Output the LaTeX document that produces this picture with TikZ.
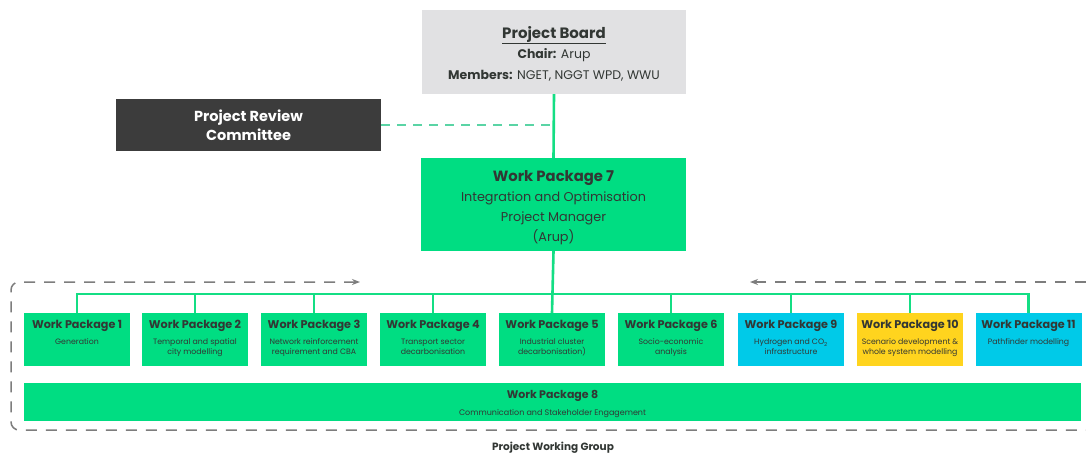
\documentclass[tikz,border=0pt]{standalone}
\usepackage{fontspec}
\setmainfont{Poppins}
\usetikzlibrary{arrows.meta}
\definecolor{wpgreen}{RGB}{0,221,130}
\definecolor{wpcyan}{RGB}{0,202,232}
\definecolor{wpyellow}{RGB}{255,212,30}
\definecolor{boardgray}{RGB}{225,225,227}
\definecolor{darkbox}{RGB}{60,60,60}
\definecolor{txtgray}{RGB}{50,55,52}
\definecolor{linegreen}{RGB}{20,222,132}
\definecolor{tealdash}{RGB}{90,212,165}
\definecolor{framegray}{RGB}{125,125,125}
\newcommand\wptitle{\fontsize{11.2}{13}\selectfont\bfseries}
\newcommand\wpsub{\fontsize{7.8}{10}\selectfont}
\newcommand\wpbox[2]{\parbox[c][47pt][t]{104pt}{\centering\vspace*{4.5pt}{\wptitle #1\par}\vspace{6pt}{\wpsub #2\par}}}
\tikzset{
  wpsmall/.style={rectangle, draw=none, minimum width=106pt, minimum height=53pt, inner sep=0pt, text=txtgray},
  boxtext/.style={align=center, inner sep=0pt, text=txtgray},
  conn/.style={draw=linegreen, line width=2.6pt},
  revdash/.style={draw=tealdash, line width=1.2pt, dash pattern=on 9pt off 7pt},
  frame/.style={draw=framegray, line width=1.5pt, dash pattern=on 11pt off 9pt},
}
\begin{document}
\begin{tikzpicture}[x=1pt,y=-1pt]
\useasboundingbox[fill=white] (0,0) rectangle (1086,455);
% frame
\draw[frame, rounded corners=8pt, {Stealth[length=8pt,width=6pt]}-] (360,282) -- (11,282) -- (11,430) -- (1086,430);
\draw[frame, -{Stealth[length=8pt,width=6pt]}] (1086,282) -- (750,282);
% top boxes
\node[rectangle, fill=boardgray, minimum width=264pt, minimum height=84pt, inner sep=0pt] (board) at (554,52) {};
\node[boxtext, font=\fontsize{12.5}{20.5}\selectfont] (boardtxt) at ([yshift=-1.5pt]board.center)
  {{\fontsize{15}{20.5}\selectfont\bfseries\underline{Project Board}}\\
   \textbf{Chair:} Arup\\
   \textbf{Members:} NGET, NGGT WPD, WWU};
\node[rectangle, fill=darkbox, minimum width=265pt, minimum height=52pt, text=white, align=center, inner sep=0pt,
      font=\fontsize{14.5}{19.5}\selectfont\bfseries] (prc) at (248.5,125)
  {Project Review\\Committee};
\node[rectangle, fill=wpgreen, minimum width=265pt, minimum height=93pt, inner sep=0pt] (wp7) at (553.5,204.5) {};
\node[boxtext, font=\fontsize{12.8}{20}\selectfont] (wp7txt) at ([yshift=-3pt]wp7.center)
  {{\fontsize{14.8}{20}\selectfont\bfseries Work Package 7}\\
   Integration and Optimisation\\
   Project Manager\\
   (Arup)};
% work packages
\node[wpsmall, fill=wpgreen] (w1) at (77,339.5) {\wpbox{Work Package 1}{Generation}};
\node[wpsmall, fill=wpgreen] (w2) at (195,339.5) {\wpbox{Work Package 2}{Temporal and spatial\\city modelling}};
\node[wpsmall, fill=wpgreen] (w3) at (314,339.5) {\wpbox{Work Package 3}{Network reinforcement\\requirement and CBA}};
\node[wpsmall, fill=wpgreen] (w4) at (433,339.5) {\wpbox{Work Package 4}{Transport sector\\decarbonisation}};
\node[wpsmall, fill=wpgreen] (w5) at (552,339.5) {\wpbox{Work Package 5}{Industrial cluster\\decarbonisation)}};
\node[wpsmall, fill=wpgreen] (w6) at (671,339.5) {\wpbox{Work Package 6}{Socio-economic\\analysis}};
\node[wpsmall, fill=wpcyan] (w9) at (791,339.5) {\wpbox{Work Package 9}{Hydrogen and CO\textsubscript{2}\\infrastructure}};
\node[wpsmall, fill=wpyellow] (w10) at (910,339.5) {\wpbox{Work Package 10}{Scenario development \&\\whole system modelling}};
\node[wpsmall, fill=wpcyan] (w11) at (1028.5,339.5) {\wpbox{Work Package 11}{Pathfinder modelling}};
\node[rectangle, fill=wpgreen, minimum width=1057pt, minimum height=38pt, inner sep=0pt] (w8) at (552.5,402) {};
\node[boxtext, font=\fontsize{8}{16.5}\selectfont] (w8txt) at ([yshift=-2pt]w8.center)
  {{\fontsize{11}{16.5}\selectfont\bfseries Work Package 8}\\Communication and Stakeholder Engagement};
\node[text=txtgray, inner sep=0pt, font=\fontsize{10.5}{12}\selectfont\bfseries] (pwg) at (553,448) {Project Working Group};
% connectors
\draw[revdash] (prc.east) -- (prc.east -| board.south);
\draw[conn] (board.south) -- (wp7.north);
\draw[conn] (wp7.south) -- (w5.north);
\coordinate (barL) at (77,294);
\coordinate (barR) at (1028.5,294);
\draw[conn, line join=miter] (w1.north) -- (barL) -- (barR) -- (w11.north);
\foreach \n in {w2,w3,w4,w6,w9,w10} {\draw[conn] (\n.north) -- (\n.north |- barL);}
\end{tikzpicture}
\end{document}
